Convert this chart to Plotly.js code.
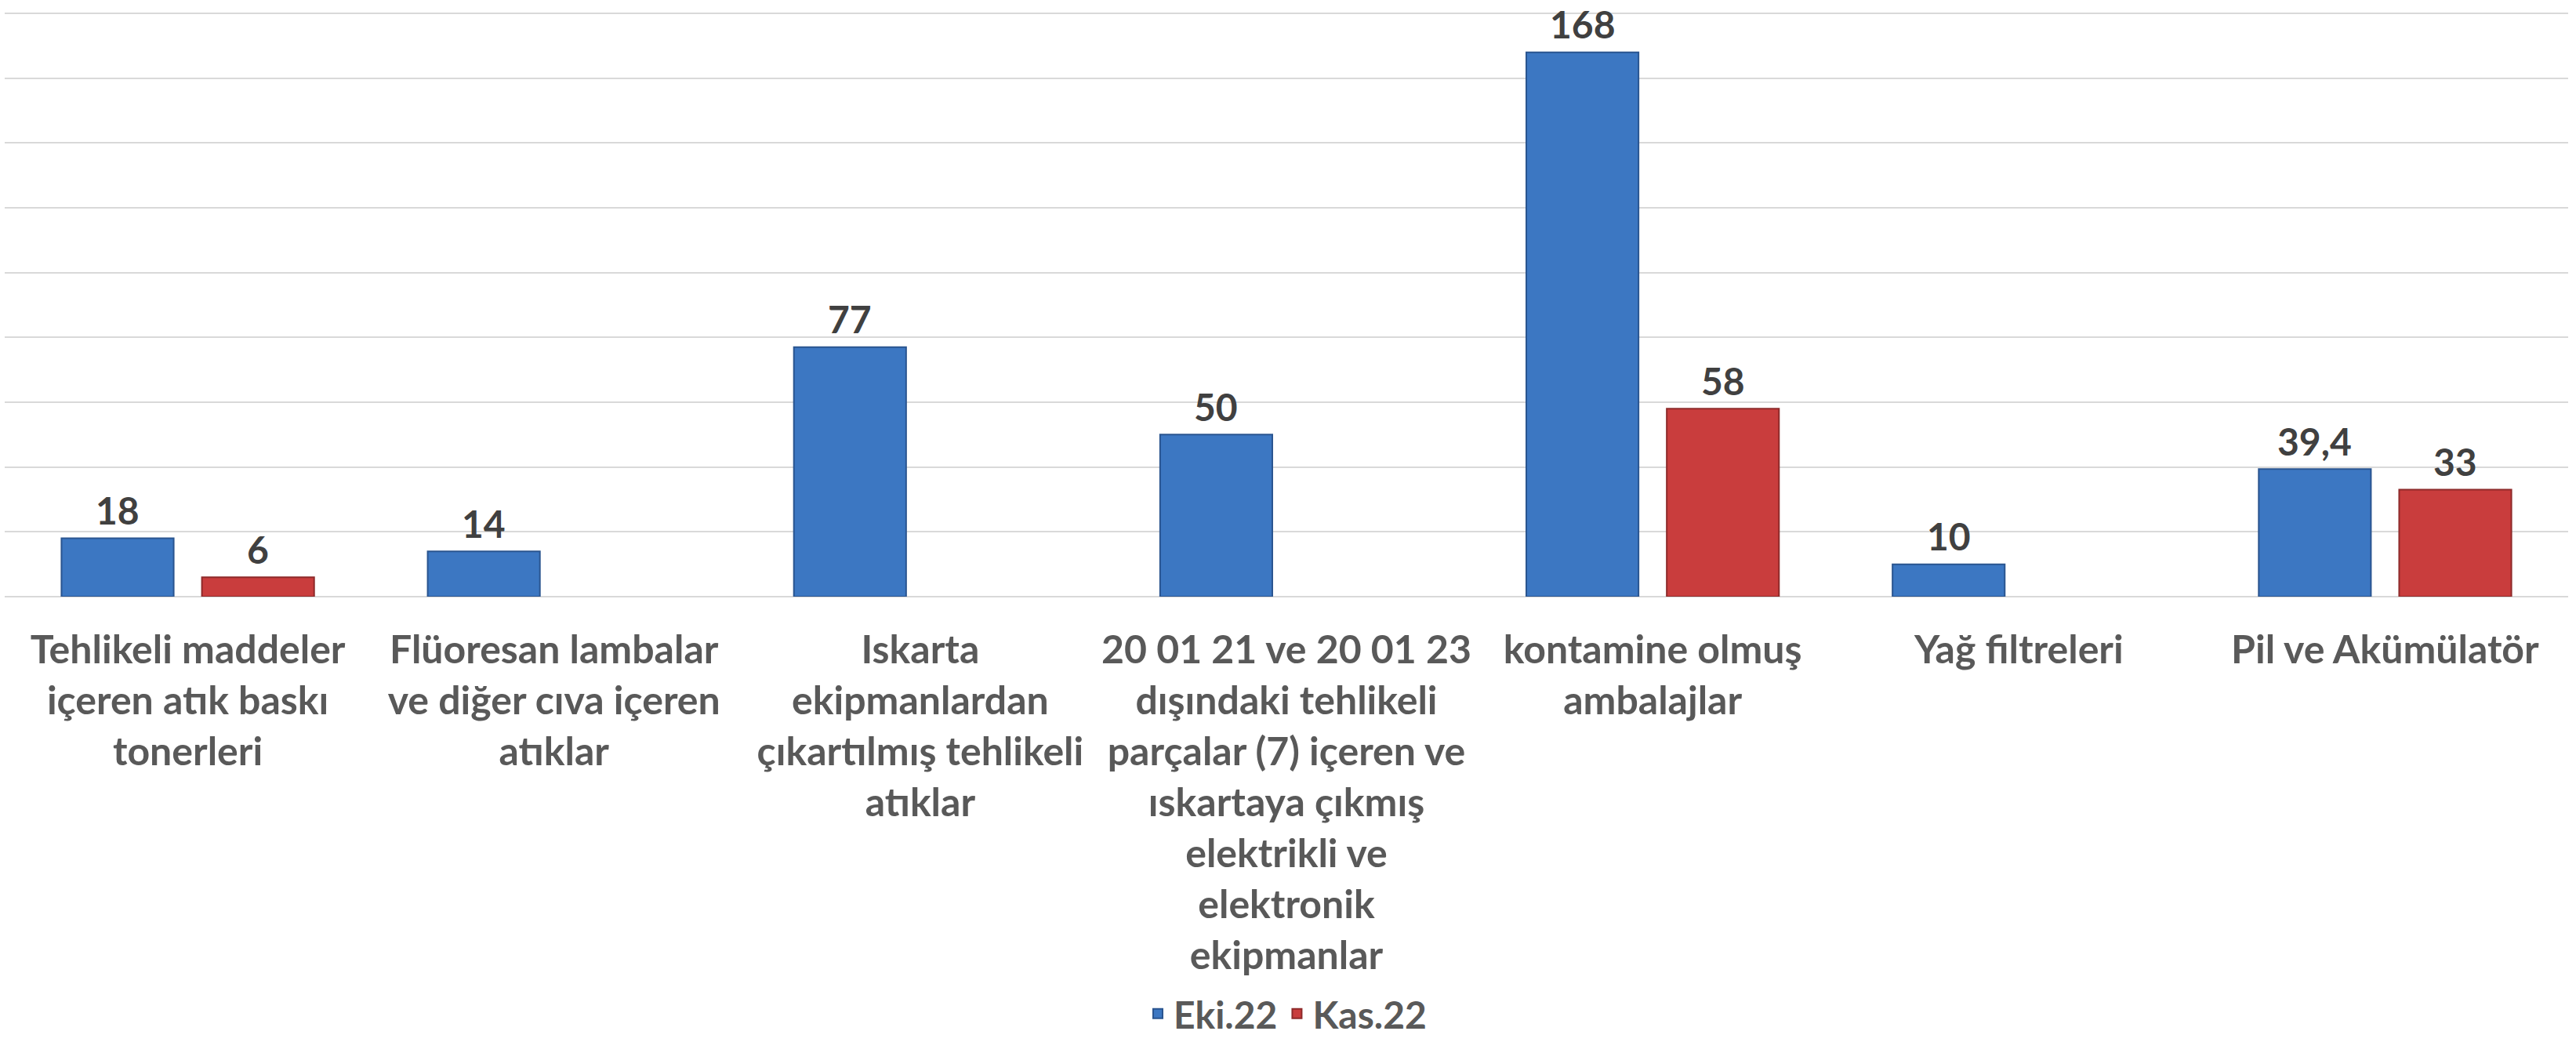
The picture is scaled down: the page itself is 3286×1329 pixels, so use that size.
<!DOCTYPE html>
<html>
<head>
<meta charset="utf-8">
<script src="https://cdn.plot.ly/plotly-3.0.1.min.js"></script>
<style>
  html, body { margin: 0; padding: 0; background: #fff; }
  #chart { width: 3286px; height: 1329px; }
</style>
</head>
<body>
<div id="chart"></div>
<script>
var categories = [
  'Tehlikeli maddeler<br>içeren atık baskı<br>tonerleri',
  'Flüoresan lambalar<br>ve diğer cıva içeren<br>atıklar',
  'Iskarta<br>ekipmanlardan<br>çıkartılmış tehlikeli<br>atıklar',
  '20 01 21 ve 20 01 23<br>dışındaki tehlikeli<br>parçalar (7) içeren ve<br>ıskartaya çıkmış<br>elektrikli ve<br>elektronik<br>ekipmanlar',
  'kontamine olmuş<br>ambalajlar',
  'Yağ filtreleri',
  'Pil ve Akümülatör'
];
var eki22 = [18, 14, 77, 50, 168, 10, 39.4];
var kas22 = [6, null, null, null, 58, null, 33];

var fontFam = 'Lato, "Open Sans", sans-serif';

var trace1 = {
  x: categories,
  y: eki22,
  name: 'Eki.22',
  type: 'bar',
  marker: {color: '#3c77c2', line: {color: '#2a5590', width: 2}}
};

var trace2 = {
  x: categories,
  y: kas22,
  name: 'Kas.22',
  type: 'bar',
  marker: {color: '#c93d3d', line: {color: '#8e2a2a', width: 2}}
};

var data = [trace1, trace2];

// value labels above each bar (blue bar left of centre, red bar right)
var annotations = [];
function addLabels(values, shift) {
  values.forEach(function (v, i) {
    if (v === null) return;
    annotations.push({
      x: categories[i],
      y: v,
      xref: 'x',
      yref: 'y',
      text: '<b>' + String(v).replace('.', ',') + '</b>',
      showarrow: false,
      xshift: shift,
      yshift: 36,
      yanchor: 'middle',
      borderpad: 0,
      font: {family: fontFam, size: 48, color: '#404040'}
    });
  });
}
addLabels(eki22, -89.6);
addLabels(kas22, 89.6);

var layout = {
  width: 3286,
  height: 1329,
  margin: {l: 6, r: 10, t: 13, b: 568},
  paper_bgcolor: '#ffffff',
  plot_bgcolor: '#ffffff',
  showlegend: true,
  barmode: 'group',
  bargap: 0.233,
  bargroupgap: 0.201,
  annotations: annotations,
  xaxis: {
    type: 'category',
    automargin: false,
    tickangle: 0,
    ticks: 'outside',
    ticklen: 24,
    tickcolor: 'rgba(0,0,0,0)',
    showline: false,
    showgrid: false,
    tickfont: {family: fontFam, size: 50, color: '#595959', weight: 'bold'}
  },
  yaxis: {
    range: [0, 181],
    dtick: 20,
    showticklabels: false,
    showgrid: true,
    gridcolor: '#d9d9d9',
    gridwidth: 2,
    zeroline: true,
    zerolinecolor: '#d9d9d9',
    zerolinewidth: 2,
    automargin: false
  },
  legend: {
    orientation: 'h',
    x: 0.5,
    xanchor: 'center',
    yref: 'container',
    y: 0.027,
    yanchor: 'middle',
    font: {family: fontFam, size: 48, color: '#595959', weight: 'bold'},
    itemwidth: 30,
    bgcolor: 'rgba(255,255,255,0)'
  }
};

Plotly.newPlot('chart', data, layout, {displayModeBar: false, staticPlot: true});
</script>
</body>
</html>
